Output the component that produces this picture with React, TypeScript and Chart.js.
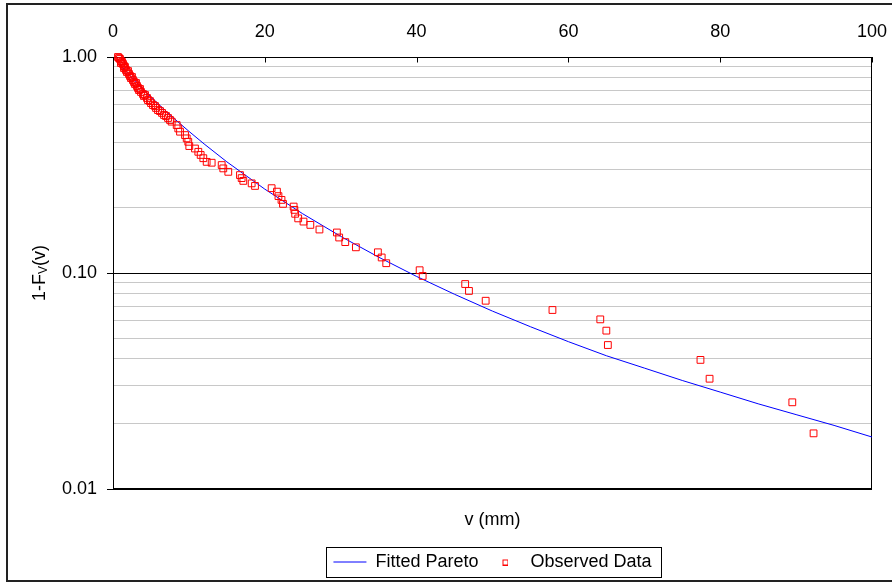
import React, { useEffect, useRef } from "react";
import { Chart, registerables } from "chart.js";

Chart.register(...registerables);

// Fitted Pareto curve
const fitX = [1.1, 2, 3, 4, 6, 8, 10, 12, 15, 20, 25, 30, 35, 40, 45, 50, 55, 60, 65, 70, 75, 80, 85, 90, 95, 100];
const fitY = [0.906, 0.837, 0.769, 0.708, 0.605, 0.521, 0.453, 0.396, 0.327, 0.2445, 0.188, 0.1478, 0.1184, 0.0964, 0.0797, 0.0666, 0.0564, 0.0481, 0.0414, 0.0363, 0.0318, 0.0281, 0.0248, 0.0221, 0.0197, 0.0174];

const obsX = [
  0.66, 0.79, 0.92, 1.05, 1.05, 1.19, 1.32, 1.45, 1.45, 1.58,
  1.71, 1.84, 1.98, 2.11, 2.24, 2.37, 2.5, 2.63, 2.77, 2.9,
  3.03, 3.16, 3.29, 3.43, 3.56, 3.69, 3.95, 4.08, 4.22, 4.48,
  4.61, 4.87, 5.01, 5.27, 5.53, 5.67, 5.93, 6.19, 6.46, 6.72,
  6.98, 7.25, 7.51, 7.73, 8.39, 8.6, 8.83, 9.49, 9.71, 9.92,
  10.05, 10.8, 11.24, 11.55, 11.9, 12.34, 13.0, 14.32, 14.53, 15.19,
  16.73, 16.95, 17.17, 18.27, 18.71, 20.9, 21.6, 21.8, 22.2, 22.4,
  23.8, 23.9, 24.0, 24.4, 25.1, 26.0, 27.2, 29.5, 29.8, 30.6,
  32.0, 34.9, 35.4, 36.0, 40.4, 40.8, 46.4, 46.9, 49.1, 57.9,
  64.2, 65.0, 65.2, 77.4, 78.6, 89.5, 92.3,
];
const obsY = [
  1.0, 0.989, 0.979, 0.958, 0.938, 0.948, 0.928, 0.908, 0.889, 0.899,
  0.871, 0.852, 0.861, 0.834, 0.817, 0.799, 0.808, 0.782, 0.766, 0.75,
  0.758, 0.734, 0.719, 0.703, 0.711, 0.689, 0.674, 0.66, 0.667, 0.646,
  0.632, 0.625, 0.612, 0.599, 0.593, 0.581, 0.568, 0.562, 0.551, 0.539,
  0.533, 0.522, 0.511, 0.502, 0.484, 0.467, 0.451, 0.435, 0.42, 0.405,
  0.387, 0.377, 0.364, 0.352, 0.34, 0.327, 0.324, 0.316, 0.305, 0.294,
  0.284, 0.275, 0.267, 0.26, 0.253, 0.247, 0.238, 0.227, 0.218, 0.209,
  0.203, 0.196, 0.188, 0.179, 0.173, 0.167, 0.159, 0.154, 0.146, 0.139,
  0.1315, 0.1247, 0.118, 0.111, 0.103, 0.0969, 0.0889, 0.0826, 0.0744, 0.0674,
  0.061, 0.0541, 0.0464, 0.0396, 0.0324, 0.0252, 0.0181,
];

const xTicks = [0, 20, 40, 60, 80, 100];
const yGridValues = [
  0.01, 0.02, 0.03, 0.04, 0.05, 0.06, 0.07, 0.08, 0.09,
  0.1, 0.2, 0.3, 0.4, 0.5, 0.6, 0.7, 0.8, 0.9, 1,
];
const yMajorValues = [0.01, 0.1, 1];
const yMajorLabels = ["0.01", "0.10", "1.00"];

const seriesLabels = ["Fitted Pareto", "Observed Data"];
const xTitle = "v (mm)";
const yTitleParts = ["1-F", "V", "(v)"];

const FONT = "'Liberation Sans', Arial, Helvetica, sans-serif";

const majorIndex = (v: number) =>
  yMajorValues.findIndex((m) => Math.abs(Math.log10(v) - Math.log10(m)) < 1e-6);

export default function App() {
  const ref = useRef<HTMLCanvasElement>(null);

  useEffect(() => {
    document.body.style.margin = "0";
    const canvas = ref.current!;

    const legendSquare = document.createElement("canvas");
    legendSquare.width = 7;
    legendSquare.height = 7;
    const lctx = legendSquare.getContext("2d")!;
    lctx.strokeStyle = "#ff0000";
    lctx.lineWidth = 1;
    lctx.strokeRect(1.5, 1.5, 5, 5);

    const decor = {
      id: "decor",
      beforeDraw(chart: any) {
        const ctx = chart.ctx;
        ctx.save();
        ctx.fillStyle = "#ffffff";
        ctx.fillRect(0, 0, chart.width, chart.height);
        ctx.strokeStyle = "#222";
        ctx.lineWidth = 2;
        ctx.beginPath();
        ctx.moveTo(chart.width + 2, 4);
        ctx.lineTo(7, 4);
        ctx.lineTo(7, 581);
        ctx.lineTo(chart.width + 2, 581);
        ctx.stroke();
        ctx.restore();
      },
      beforeDatasetsDraw(chart: any) {
        const ctx = chart.ctx;
        const a = chart.chartArea;
        ctx.save();
        ctx.strokeStyle = "#000";
        ctx.lineWidth = 1;
        const l = Math.round(a.left) + 0.5;
        const r = Math.round(a.right) - 0.5;
        const t = Math.round(a.top) + 0.5;
        const b = Math.round(a.bottom) - 0.5;
        ctx.strokeRect(l, t, r - l, b - t);
        // inside tick marks of the top x axis
        const xs = chart.scales.x;
        ctx.beginPath();
        xTicks.forEach((v) => {
          const px = Math.round(xs.getPixelForValue(v)) + 0.5;
          ctx.moveTo(px, t);
          ctx.lineTo(px, t + 5);
        });
        ctx.stroke();
        ctx.restore();
      },
      afterDraw(chart: any) {
        const ctx = chart.ctx;
        const a = chart.chartArea;
        ctx.save();
        // y axis title with subscript
        ctx.fillStyle = "#000";
        ctx.textBaseline = "middle";
        ctx.textAlign = "left";
        const big = `18px ${FONT}`;
        const small = `12px ${FONT}`;
        ctx.font = big;
        const w0 = ctx.measureText(yTitleParts[0]).width;
        const w2 = ctx.measureText(yTitleParts[2]).width;
        ctx.font = small;
        const w1 = ctx.measureText(yTitleParts[1]).width;
        const total = w0 + w1 + w2;
        ctx.translate(40, (a.top + a.bottom) / 2);
        ctx.rotate(-Math.PI / 2);
        let x = -total / 2;
        ctx.font = big;
        ctx.fillText(yTitleParts[0], x, 0);
        x += w0;
        ctx.font = small;
        ctx.fillText(yTitleParts[1], x, 4);
        x += w1;
        ctx.font = big;
        ctx.fillText(yTitleParts[2], x, 0);
        ctx.restore();

        // legend frame
        const lg = chart.legend;
        if (lg && lg.legendHitBoxes && lg.legendHitBoxes.length) {
          const hb = lg.legendHitBoxes;
          const first = hb[0];
          const last = hb[hb.length - 1];
          const left = Math.round(first.left - 7) + 0.5;
          const right = Math.round(last.left + last.width + 9) + 0.5;
          const top = Math.round(first.top - 6) + 0.5;
          ctx.save();
          ctx.strokeStyle = "#000";
          ctx.lineWidth = 1;
          ctx.strokeRect(left, top, right - left, 30);
          ctx.restore();
        }
      },
    };

    const chart = new Chart(canvas, {
      type: "scatter",
      data: {
        datasets: [
          {
            label: seriesLabels[0],
            data: fitX.map((x, i) => ({ x, y: fitY[i] })),
            showLine: true,
            borderColor: "#0000ff",
            backgroundColor: "#0000ff",
            borderWidth: 1,
            pointRadius: 0,
            pointHoverRadius: 0,
            tension: 0,
            order: 2,
            xAxisID: "x",
            yAxisID: "y",
          },
          {
            label: seriesLabels[1],
            data: obsX.map((x, i) => ({ x, y: obsY[i] })),
            showLine: false,
            pointStyle: "rect",
            pointRadius: 4.8,
            borderColor: "#ff0000",
            backgroundColor: "rgba(0,0,0,0)",
            borderWidth: 1,
            order: 1,
            clip: false,
            xAxisID: "x",
            yAxisID: "y",
          },
        ],
      },
      options: {
        animation: false,
        responsive: false,
        devicePixelRatio: 1,
        layout: { padding: { left: 0, top: 0, right: 20, bottom: 2 } },
        font: { family: FONT, size: 18 },
        scales: {
          x: {
            type: "linear",
            position: "top",
            min: 0,
            max: 100,
            afterBuildTicks: (s: any) => {
              s.ticks = xTicks.map((v) => ({ value: v }));
            },
            afterFit: (s: any) => {
              s.height = 57;
              s.paddingRight = 16;
              s.paddingLeft = 0;
            },
            ticks: {
              autoSkip: false,
              maxRotation: 0,
              padding: 14,
              color: "#000",
              font: { family: FONT, size: 18 },
              callback: (v: any) => String(v),
            },
            grid: { drawOnChartArea: false, drawTicks: false },
            border: { display: true, color: "#000", width: 1 },
          },
          x2: {
            type: "linear",
            position: "bottom",
            min: 0,
            max: 100,
            afterFit: (s: any) => {
              s.height = 54;
            },
            ticks: { display: false },
            grid: { display: false, drawTicks: false },
            border: { display: false },
            title: {
              display: true,
              text: xTitle,
              color: "#000",
              font: { family: FONT, size: 18 },
              padding: { top: 0, bottom: 12 },
            },
          },
          y: {
            type: "logarithmic",
            position: "left",
            min: 0.01,
            max: 1,
            afterBuildTicks: (s: any) => {
              s.ticks = yGridValues.map((v) => ({ value: v }));
            },
            afterFit: (s: any) => {
              s.width = 113;
            },
            ticks: {
              autoSkip: false,
              padding: 10,
              color: "#000",
              font: { family: FONT, size: 18 },
              callback: (v: any) => {
                const i = majorIndex(Number(v));
                return i >= 0 ? yMajorLabels[i] : "";
              },
            },
            grid: {
              drawOnChartArea: true,
              drawTicks: true,
              tickLength: 6,
              lineWidth: 1,
              color: (c: any) =>
                c.tick && majorIndex(c.tick.value) >= 0 ? "#000000" : "#c8c8c8",
              tickColor: (c: any) =>
                c.tick && majorIndex(c.tick.value) >= 0 ? "#000000" : "rgba(0,0,0,0)",
            },
            border: { display: true, color: "#000", width: 1 },
          },
        },
        plugins: {
          tooltip: { enabled: false },
          title: { display: false },
          legend: {
            display: true,
            position: "bottom",
            fullSize: false,
            align: "center",
            labels: {
              color: "#000",
              font: { family: FONT, size: 18 },
              usePointStyle: true,
              pointStyleWidth: 33,
              boxWidth: 33,
              boxHeight: 18,
              padding: 10,
              sort: (a: any, b: any) => a.datasetIndex - b.datasetIndex,
              generateLabels: (ch: any) =>
                ch.data.datasets.map((ds: any, i: number) => ({
                  text: ds.label,
                  datasetIndex: i,
                  hidden: false,
                  pointStyle: i === 0 ? "line" : legendSquare,
                  strokeStyle: ds.borderColor,
                  fillStyle: "rgba(0,0,0,0)",
                  lineWidth: 1,
                  fontColor: "#000",
                })),
            },
          },
        },
      },
      plugins: [decor],
    } as any);

    return () => chart.destroy();
  }, []);

  return (
    <div style={{ width: 892, height: 583 }}>
      <canvas ref={ref} width={892} height={583} style={{ display: "block" }} />
    </div>
  );
}
